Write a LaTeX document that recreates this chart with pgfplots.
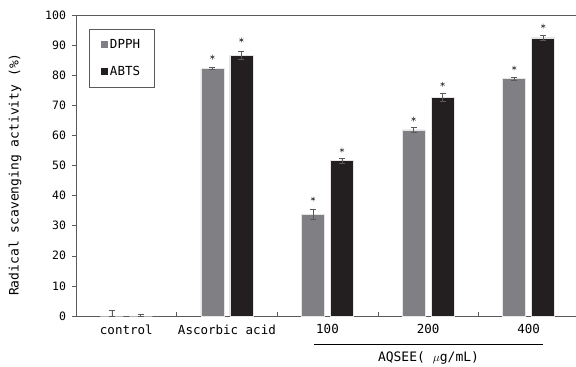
\documentclass[border=0pt]{standalone}
\usepackage{fontspec}
\setmainfont{DejaVu Sans Mono}
\usepackage{pgfplots}
\pgfplotsset{compat=1.18}
\definecolor{dpph}{RGB}{128,128,132}
\definecolor{abts}{RGB}{35,31,32}
\definecolor{axisgray}{RGB}{90,90,90}
\begin{document}
\begin{tikzpicture}
\path[use as bounding box] (0,0) rectangle (576pt,367pt);
\begin{axis}[
  at={(76pt,51pt)}, anchor=south west,
  scale only axis, width=503pt, height=301pt,
  xmin=-0.5, xmax=4.5, ymin=0, ymax=100,
  clip=false,
  axis line style={axisgray, line width=0.8pt},
  /pgf/number format/assume math mode=true,
  ytick={0,10,...,100},
  ytick pos=left, xtick pos=bottom,
  ytick align=outside, xtick align=inside,
  major tick length=3.5pt,
  tick style={axisgray, line width=0.6pt},
  yticklabel style={font=\fontsize{11.5}{13}\selectfont, xshift=-3pt},
  xtick={0.5,1.5,2.5,3.5}, xticklabels={},
  extra x ticks={0,1,2,3,4},
  extra x tick labels={control, Ascorbic acid, 100, 200, 400},
  extra x tick style={major tick length=0pt, xticklabel style={font=\fontsize{12.5}{14}\selectfont, yshift=-5pt}},
  ylabel={Radical scavenging activity (\%)},
  ylabel style={at={(axis description cs:-0.121,0.47)}, anchor=center, font=\fontsize{13}{15}\selectfont},
  legend style={at={(rel axis cs:0.026,0.953)}, anchor=north west, draw=axisgray, line width=0.6pt,
    font=\fontsize{12.5}{14}\selectfont, row sep=12pt, inner xsep=12pt, inner ysep=8pt},
  legend cell align=left,
]
% DPPH (bars placed at category - 0.144)
\addplot[ybar, bar width=0.229, bar shift=0, fill=dpph, draw=white!80!gray, line width=0.6pt,
  legend image code/.code={\fill[dpph] (0pt,-3pt) rectangle (6pt,3pt);},
  error bars/.cd, y dir=both, y explicit,
  error bar style={axisgray, line width=0.6pt},
  error mark options={rotate=90, mark size=3pt, axisgray, line width=0.6pt}]
  coordinates {(-0.144,0) += (0,2) -= (0,0)
               (0.856,82.2) +- (0,0.4)
               (1.856,33.8) +- (0,1.8)
               (2.856,61.8) +- (0,0.9)
               (3.856,78.9) +- (0,0.5)};
\addlegendentry{DPPH}
% ABTS (bars placed at category + 0.144)
\addplot[ybar, bar width=0.229, bar shift=0, fill=abts, draw=white!80!gray, line width=0.6pt,
  legend image code/.code={\fill[abts] (0pt,-3pt) rectangle (6pt,3pt);},
  error bars/.cd, y dir=both, y explicit,
  error bar style={axisgray, line width=0.6pt},
  error mark options={rotate=90, mark size=3pt, axisgray, line width=0.6pt}]
  coordinates {(0.144,0) += (0,0.6) -= (0,0)
               (1.144,86.6) +- (0,1.3)
               (2.144,51.6) +- (0,0.8)
               (3.144,72.6) +- (0,1.3)
               (4.144,92.4) +- (0,0.8)};
\addlegendentry{ABTS}
\addplot[only marks, mark=asterisk, mark size=2.4pt, mark options={black!80, line width=0.5pt}, forget plot]
  coordinates {(0.856,86) (1.856,38.9) (2.856,65.4) (3.856,82.4)
               (1.144,91.7) (2.144,55.1) (3.144,77) (4.144,96.3)};
\draw[black, line width=0.8pt] (axis cs:1.866,-9.3) -- (axis cs:4.142,-9.3);
\node[font=\fontsize{13}{15}\selectfont, text=black] at (axis cs:3.004,-13.8) {AQSEE( $\mu$g/mL)};
\end{axis}
\end{tikzpicture}
\end{document}
